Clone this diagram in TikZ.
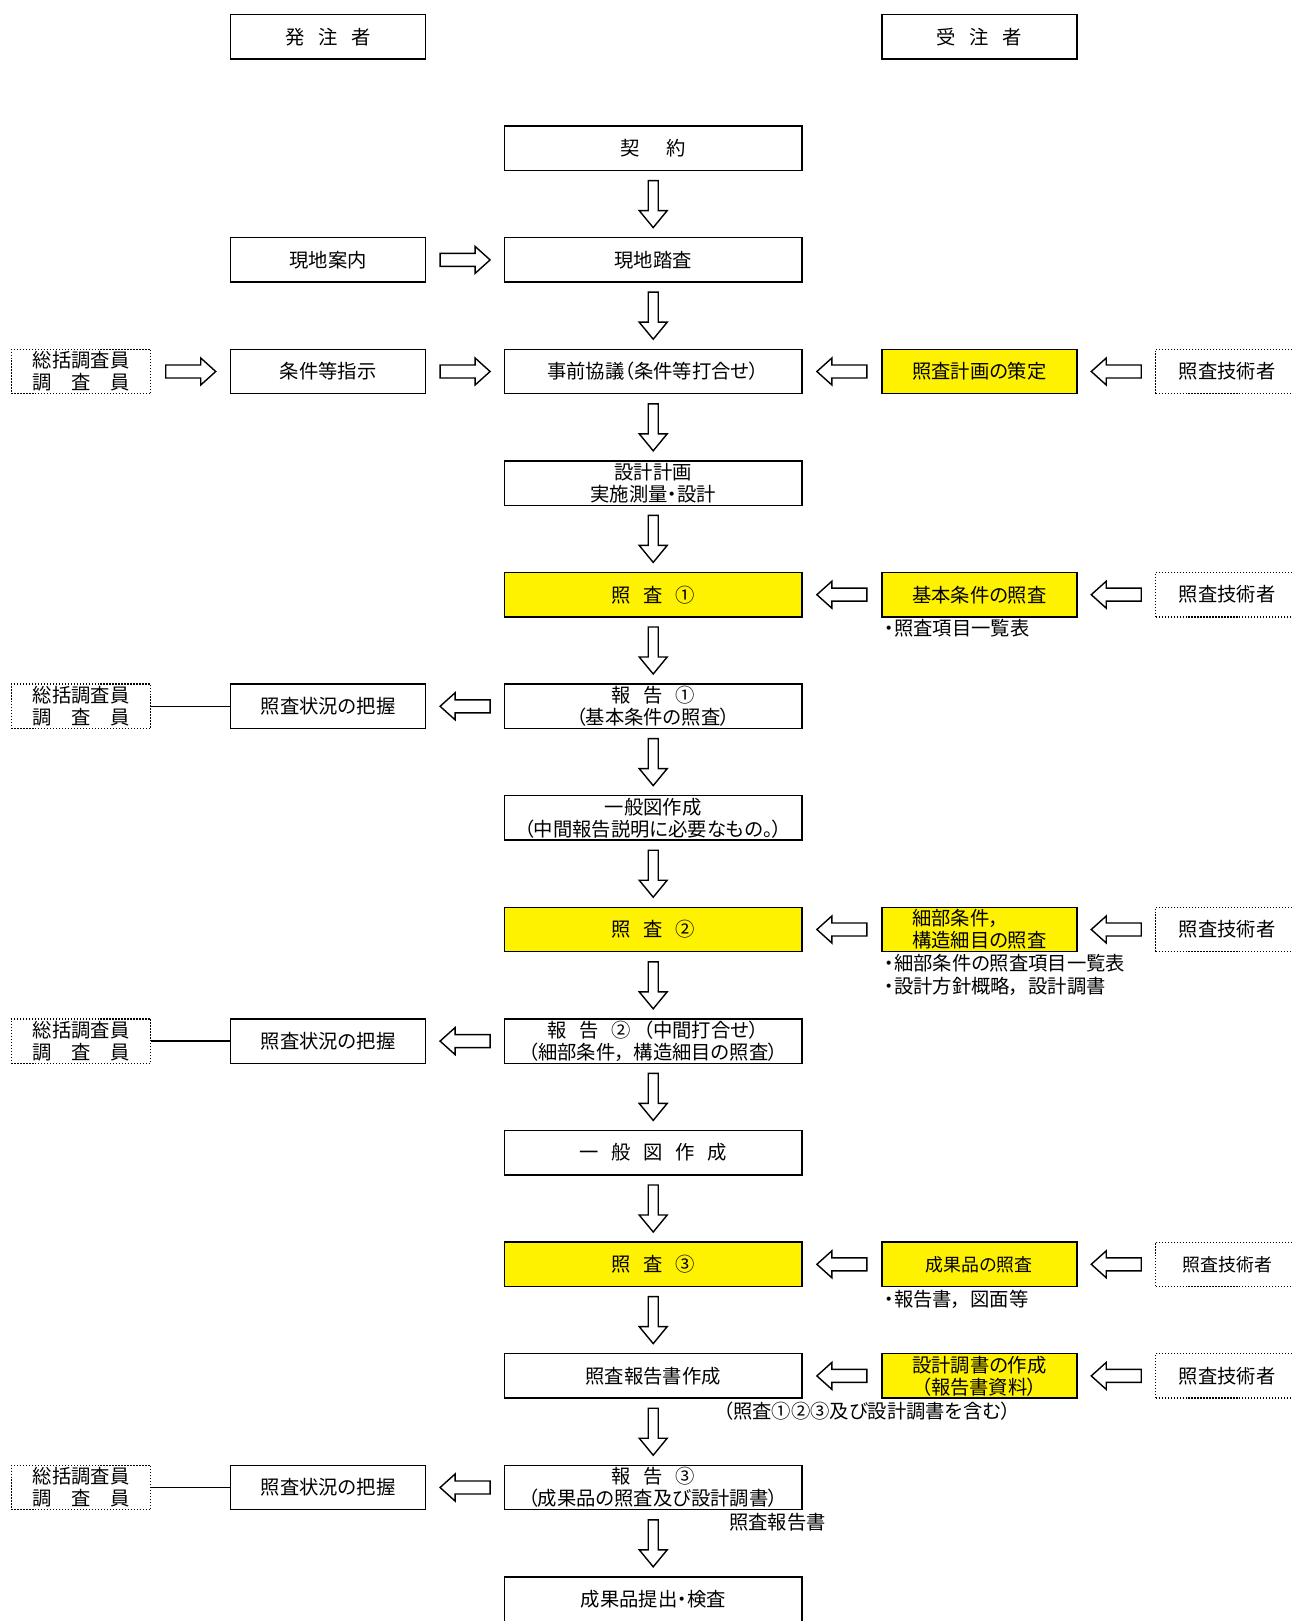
\documentclass[tikz,border=0pt]{standalone}
\usepackage{fontspec}
\setmainfont[RawFeature=+palt]{Noto Sans CJK JP}
\usetikzlibrary{calc}

\newcommand{\gap}[1][.65em]{\hspace{#1}}
\newcommand{\cm}{，\hspace{.45em}}

\begin{document}
\begin{tikzpicture}[x=0.02cm, y=-0.02cm, font=\fontsize{11}{12.6}\selectfont]
    \tikzset{
        box/.style = {draw, line width=0.8pt, minimum width=5.95cm, minimum height=0.888cm, align=center, inner sep=1pt},
        sidebox/.style = {box, minimum width=3.9cm},
        hilite/.style = {sidebox, fill=yellow},
        staff/.style = {draw, densely dotted, line width=0.7pt, minimum width=2.79cm, minimum height=0.888cm, align=center, inner sep=1pt},
        checker/.style = {staff, minimum width=2.86cm},
        note/.style = {align=left, inner sep=0pt},
        smaller/.style = {font=\fontsize{10.2}{12}\selectfont},
        downarr/.pic = {\draw[line width=0.8pt, fill=white] (-5,-23.5) -- (5,-23.5) -- (5,6.5) -- (14,6.5) -- (0,23.5) -- (-14,6.5) -- (-5,6.5) -- cycle;},
        rightarr/.pic = {\draw[line width=0.8pt, fill=white] (-25,-6.5) -- (10,-6.5) -- (10,-13.5) -- (25,0) -- (10,13.5) -- (10,6.5) -- (-25,6.5) -- cycle;},
        leftarr/.pic = {\draw[line width=0.8pt, fill=white] (25,-6.5) -- (-10,-6.5) -- (-10,-13.5) -- (-25,0) -- (-10,13.5) -- (-10,6.5) -- (25,6.5) -- cycle;}
    }
    \useasboundingbox (0,0) rectangle (1293,1621);

    % headers
    \node[sidebox] (hd1) at (328.2,36.7) {発\gap[.7em]注\gap[.7em]者};
    \node[sidebox] (hd2) at (979.3,36.7) {受\gap[.7em]注\gap[.7em]者};

    % main flow
    \node[box] (c0) at (653.2,148.3) {契\gap[1.35em]約};
    \node[box] (c1) at (653.2,259.9) {現地踏査};
    \node[box] (c2) at (653.2,371.5) {事前協議（条件等打合せ）};
    \node[box] (c3) at (653.2,483.1) {設計計画\\実施測量・設計};
    \node[box, fill=yellow] (c4) at (653.2,594.7) {照\gap 査\gap ①};
    \node[box] (c5) at (653.2,706.3) {報\gap 告\gap ①\\（基本条件の照査）};
    \node[box] (c6) at (653.2,817.9) {一般図作成\\（中間報告説明に必要なもの。）};
    \node[box, fill=yellow] (c7) at (653.2,929.5) {照\gap 査\gap ②};
    \node[box] (c8) at (653.2,1041.1) {報\gap 告\gap ②\gap（中間打合せ）\\（細部条件\cm 構造細目の照査）};
    \node[box] (c9) at (653.2,1152.7) {一\gap 般\gap 図\gap 作\gap 成};
    \node[box, fill=yellow] (c10) at (653.2,1264.3) {照\gap 査\gap ③};
    \node[box] (c11) at (653.2,1375.9) {照査報告書作成};
    \node[box] (c12) at (653.2,1487.5) {報\gap 告\gap ③\\（成果品の照査及び設計調書）};
    \node[box] (c13) at (653.2,1599.1) {成果品提出・検査};

    % orderer side
    \node[sidebox] (g1) at (328.2,259.9) {現地案内};
    \node[sidebox] (g2) at (328.2,371.5) {条件等指示};
    \foreach \r/\y in {5/706.3, 8/1041.1, 12/1487.5}
    {
        \node[sidebox] (k\r) at (328.2,\y) {照査状況の把握};
    }
    \foreach \r/\y in {2/371.5, 5/706.3, 8/1041.1, 12/1487.5}
    {
        \node[staff] (s\r) at (81.1,\y) {総括調査員\\調\gap[1em]査\gap[1em]員};
    }

    % contractor side
    \node[hilite] (y2) at (979.3,371.5) {照査計画の策定};
    \node[hilite] (y4) at (979.3,594.7) {基本条件の照査};
    \node[hilite, align=left] (y7) at (979.3,929.5) {細部条件，\\構造細目の照査};
    \node[hilite, smaller] (y10) at (979.3,1264.3) {成果品の照査};
    \node[hilite] (y11) at (979.3,1375.9) {設計調書の作成\\（報告書資料）};
    \foreach \r/\y in {2/371.5, 4/594.7, 7/929.5, 11/1375.9}
    {
        \node[checker] (t\r) at (1227.1,\y) {照査技術者};
    }
    \node[checker, smaller] (t10) at (1227.1,1264.3) {照査技術者};

    % notes
    \node[note, anchor=west] (n4) at (884,628) {・照査項目一覧表};
    \node[note, anchor=west, font=\fontsize{11}{12.9}\selectfont] (n7) at (884,975) {・細部条件の照査項目一覧表\\・設計方針概略\cm 設計調書};
    \node[note, anchor=west] (n10) at (884,1299) {・報告書\cm 図面等};
    \node[note] (n11) at (867,1411) {（照査①②③及び設計調書を含む）};
    \node[note] (n12) at (777.5,1522) {照査報告書};

    % arrows
    \foreach \i [evaluate=\i as \j using int(\i+1)] in {0,...,12}
    {
        \pic at ($(c\i.south)!.5!(c\j.north)$) {downarr};
    }
    \foreach \a/\b in {s2/g2, g1/c1, g2/c2}
    {
        \pic at ($(\a.east)!.5!(\b.west)$) {rightarr};
    }
    \foreach \a/\b in {c2/y2, y2/t2, c4/y4, y4/t4, c7/y7, y7/t7, c10/y10, y10/t10, c11/y11, y11/t11, k5/c5, k8/c8, k12/c12}
    {
        \pic at ($(\a.east)!.5!(\b.west)$) {leftarr};
    }
    \foreach \r in {5,8,12}
    {
        \draw[line width=0.8pt] (s\r) -- (k\r);
    }
\end{tikzpicture}
\end{document}
